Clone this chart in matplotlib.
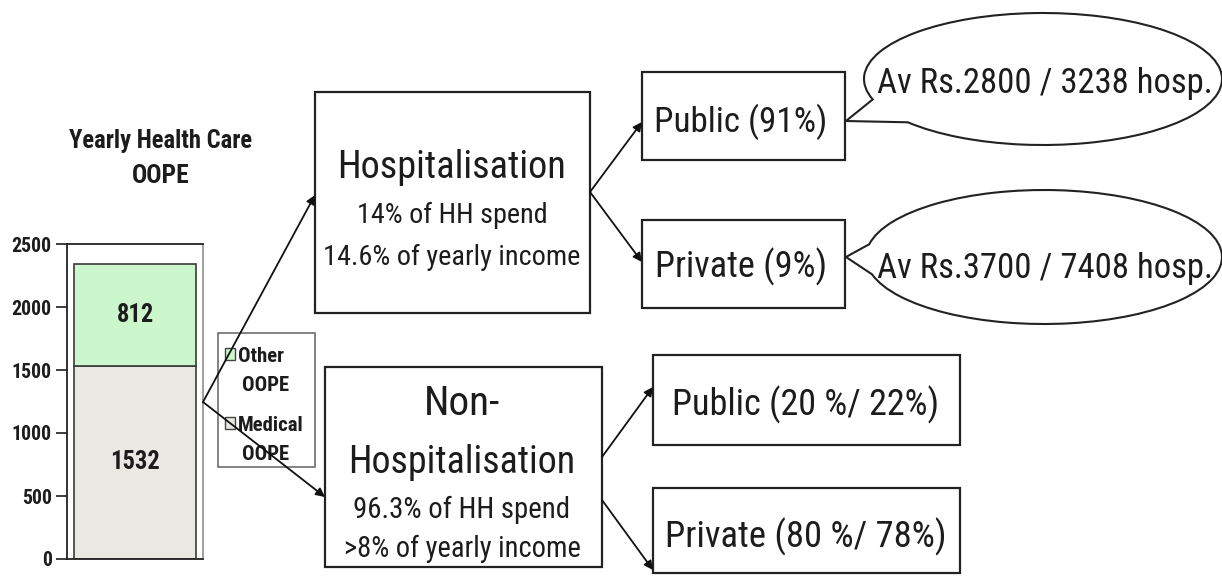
import matplotlib
matplotlib.use('Agg')
import matplotlib.pyplot as plt
from matplotlib import font_manager
from matplotlib.patches import Rectangle, PathPatch
from matplotlib.path import Path
from matplotlib.transforms import Affine2D

# ---- data ----
segments = ['Medical\nOOPE', 'Other\nOOPE']
values = [1532, 812]
seg_colors = ['#eae8e3', '#ccf7cc']
yticks = [0, 500, 1000, 1500, 2000, 2500]
chart_title = ['Yearly Health Care', 'OOPE']

hosp_lines = ['Hospitalisation', '14% of HH spend', '14.6% of yearly income']
nonhosp_lines = ['Non-', 'Hospitalisation', '96.3% of HH spend', '>8% of yearly income']
hosp_split = ['Public (91%)', 'Private (9%)']
nonhosp_split = ['Public (20 %/ 22%)', 'Private (80 %/ 78%)']
callouts = ['Av Rs.2800 / 3238 hosp.', 'Av Rs.3700 / 7408 hosp.']

# the original uses Arial Narrow; take the closest condensed face we have
names = {f.name for f in font_manager.fontManager.ttflist}
FONT = next((n for n in ['Roboto Condensed', 'Archivo Narrow', 'PT Sans Narrow']
             if n in names), 'Liberation Sans')
plt.rcParams['font.family'] = [FONT, 'DejaVu Sans']
INK = '#1c1c1c'

W, H = 1222, 577
fig = plt.figure(figsize=(W / 100, H / 100), dpi=100)
fig.patch.set_facecolor('white')
renderer = fig.canvas.get_renderer()


def fit(t, width):
    # scale font so the text is as wide as in the original picture
    w = t.get_window_extent(renderer).width
    t.set_fontsize(t.get_fontsize() * width / w)
    return t.get_fontsize()


def probe_size(s, width, **kw):
    t = fig.text(0, 0, s, fontsize=12, **kw)
    size = fit(t, width)
    t.remove()
    return size


# ---- stacked bar ----
ax = fig.add_axes([67 / W, (H - 559) / H, 136 / W, 315 / H])
value_size = probe_size(str(values[1]), 37, fontweight='bold')
bottom = 0
for v, c in zip(values, seg_colors):
    ax.bar(0, v, width=0.9, bottom=bottom, color=c, edgecolor='#3a3a3a', linewidth=1.2)
    ax.text(0, bottom + v / 2, str(v), ha='center', va='center',
            fontsize=value_size, fontweight='bold', color=INK)
    bottom += v
ax.set_xlim(-0.5, 0.5)
ax.set_ylim(0, 2500)
ax.set_yticks(yticks)
ax.set_xticks([])
tick_size = probe_size('2500', 40, fontweight='bold')
ax.tick_params(axis='y', length=8, width=1.2, pad=3, labelsize=tick_size, colors=INK)
for lbl in ax.get_yticklabels():
    lbl.set_fontweight('bold')
for side in ['left', 'top', 'bottom']:
    ax.spines[side].set_color('#222222')
    ax.spines[side].set_linewidth(1.3)
ax.spines['right'].set_color('#999999')
ax.spines['right'].set_linewidth(1.3)

# ---- diagram overlay in pixel coordinates ----
ov = fig.add_axes([0, 0, 1, 1])
ov.set_xlim(0, W)
ov.set_ylim(H, 0)
ov.axis('off')

for line, yb, w in zip(chart_title, [148, 183], [185, 58]):
    t = ov.text(161, yb, line, ha='center', va='baseline',
                fontsize=14, fontweight='bold', color=INK)
    fit(t, w)

# legend drawn by hand (square sits on first line as in the original)
ov.add_patch(Rectangle((218, 333), 97, 134, fill=False, edgecolor='#6e6e6e', lw=1.2))
leg_size = probe_size('Medical', 66, fontweight='bold')
for i, (lab, col) in enumerate(zip(segments[::-1], seg_colors[::-1])):
    y0 = [348, 417][i]
    ov.add_patch(Rectangle((225, y0), 10, 12, facecolor=col, edgecolor='#444444', lw=1))
    for j, part in enumerate(lab.split('\n')):
        ov.text(238 + 4 * j, y0 + 14 + j * 29, part, ha='left', va='baseline',
                fontsize=leg_size, fontweight='bold', color=INK)


def box(x0, y0, x1, y1):
    ov.add_patch(Rectangle((x0, y0), x1 - x0, y1 - y0, facecolor='white',
                           edgecolor='#222222', lw=1.6))


def label(x, y, s, width):
    t = ov.text(x, y, s, ha='center', va='baseline', fontsize=20, color=INK)
    fit(t, width)


def arrow(p0, p1):
    ov.annotate('', xy=p1, xytext=p0,
                arrowprops=dict(arrowstyle='-|>', color='#111111', lw=1.3,
                                mutation_scale=13, shrinkA=0, shrinkB=0))


def callout(cx, cy, a, b, t_up, t_low, tip):
    arc = Path.arc(t_up, t_low + 360)
    verts = Affine2D().scale(a, b).translate(cx, cy).transform(arc.vertices)
    verts = list(verts) + [tip, verts[0]]
    codes = list(arc.codes) + [Path.LINETO, Path.CLOSEPOLY]
    ov.add_patch(PathPatch(Path(verts, codes), facecolor='white',
                           edgecolor='#222222', lw=1.5, clip_on=False))


# hospitalisation
box(315, 92, 590, 313)
for line, yb, w in zip(hosp_lines, [178, 223, 265], [228, 190, 257]):
    label(452, yb, line, w)

# non-hospitalisation
box(325, 367, 602, 567)
for line, yb, w in zip(nonhosp_lines, [415, 473, 518, 557], [76, 226, 216, 237]):
    label(462, yb, line, w)

# split boxes
box(642, 72, 845, 160)
box(642, 220, 845, 308)
box(653, 355, 960, 445)
box(653, 488, 960, 573)
for line, yb, w in zip(hosp_split, [132, 277], [173, 172]):
    label(741, yb, line, w)
for line, yb, w in zip(nonhosp_split, [415, 547], [268, 282]):
    label(806, yb, line, w)

# callouts
callout(1043, 79, 179, 66, 162, 139, (846, 121))
callout(1044, 257, 178, 67, 191, 165, (846, 257))
for line, yb in zip(callouts, [93, 278]):
    label(1045, yb, line, 336)

# arrows
arrow((203, 402), (315, 195))
arrow((203, 402), (325, 497))
arrow((590, 192), (642, 122))
arrow((590, 192), (642, 262))
arrow((602, 457), (653, 387))
arrow((602, 500), (653, 570))

fig.savefig('out.png', dpi=100)
